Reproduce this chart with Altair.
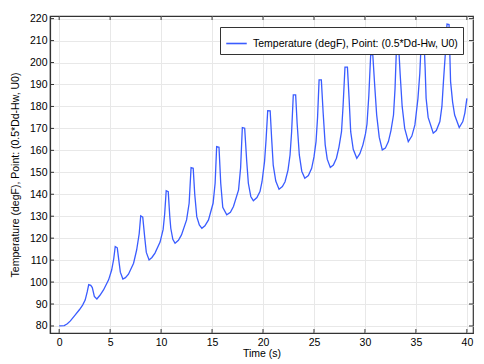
import altair as alt
import pandas as pd

# ---- data ----
time_s = [
    0.0, 0.5, 0.8, 1.1, 1.5, 2.0, 2.3, 2.55, 2.75, 2.9, 3.1, 3.25, 3.45, 3.7,
    4.0, 4.35, 4.85, 5.15, 5.35, 5.5, 5.7, 5.85, 6.0, 6.25,
    6.5, 6.8, 7.3, 7.6, 7.85, 8.0, 8.2, 8.4, 8.55, 8.82,
    9.1, 9.4, 9.9, 10.2, 10.35, 10.5, 10.7, 10.85, 10.95, 11.15, 11.37,
    11.7, 12.0, 12.5, 12.75, 12.94, 13.15, 13.3, 13.5, 13.75, 14.0,
    14.3, 14.65, 15.1, 15.3, 15.45, 15.68, 15.85, 16.05, 16.44,
    16.8, 17.1, 17.6, 17.8, 17.97, 18.2, 18.4, 18.56, 18.8, 19.05,
    19.4, 19.7, 19.9, 20.15, 20.3, 20.46, 20.7, 20.85, 21.0, 21.25, 21.57,
    21.9, 22.16, 22.45, 22.65, 22.8, 22.97, 23.2, 23.35, 23.56, 23.8, 24.1,
    24.45, 24.77, 25.0, 25.2, 25.35, 25.5, 25.72, 25.9, 26.1, 26.3, 26.6,
    26.9, 27.2, 27.45, 27.7, 27.85, 28.04, 28.28, 28.45, 28.6, 28.85, 29.2,
    29.5, 29.8, 30.05, 30.2, 30.38, 30.56, 30.77, 30.95, 31.15, 31.4, 31.7,
    32.0, 32.3, 32.55, 32.8, 32.95, 33.1, 33.3, 33.45, 33.65, 33.9, 34.25,
    34.6, 34.9, 35.2, 35.38, 35.55, 35.77, 35.9, 36.0, 36.2, 36.7,
    37.0, 37.35, 37.55, 37.7, 37.9, 38.05, 38.25, 38.4, 38.6, 38.8, 39.25,
    39.6, 39.8, 40.0,
]
temp_degF = [
    80.0, 80.2, 81.0, 82.3, 84.6, 87.5, 89.5, 91.8, 95.5, 98.8, 98.5, 97.5, 93.5, 92.3,
    94.0, 96.4, 101.0, 105.5, 110.5, 116.2, 115.6, 110.0, 104.5, 101.4,
    102.0, 103.6, 108.6, 114.6, 122.0, 130.2, 129.6, 120.0, 113.5, 110.1,
    111.2, 113.2, 118.2, 124.0, 131.0, 141.6, 141.2, 130.0, 124.5, 119.5, 117.7,
    119.0, 121.5, 128.3, 135.9, 152.1, 151.8, 140.0, 129.8, 126.0, 124.5,
    125.6, 128.3, 135.9, 145.0, 161.7, 161.4, 145.0, 134.0, 130.6,
    131.8, 134.4, 142.0, 152.0, 170.4, 170.1, 155.0, 145.0, 139.0, 137.0,
    138.5, 141.2, 145.7, 155.0, 165.0, 178.1, 178.0, 165.0, 153.3, 146.0, 142.3,
    143.5, 145.7, 151.0, 157.9, 168.0, 185.3, 185.3, 172.0, 157.9, 150.5, 147.3,
    148.5, 151.8, 157.0, 164.0, 175.0, 192.1, 192.1, 177.0, 162.5, 156.0, 152.2,
    153.3, 156.4, 161.5, 168.5, 180.0, 197.9, 197.9, 183.0, 168.5, 160.5, 156.4,
    158.5, 162.5, 167.5, 172.0, 185.0, 203.5, 203.5, 190.0, 176.1, 166.0, 160.2,
    161.0, 164.0, 169.0, 176.1, 188.0, 208.0, 208.0, 195.0, 180.0, 170.0, 164.0,
    166.5, 171.6, 183.7, 195.0, 212.5, 212.5, 198.0, 183.7, 175.0, 167.8,
    169.0, 173.1, 180.0, 191.3, 205.0, 217.5, 217.3, 191.3, 182.0, 176.1, 170.4,
    173.1, 177.0, 183.7,
]
series_name = "Temperature (degF), Point: (0.5*Dd-Hw, U0)"
x_ticks = [0, 5, 10, 15, 20, 25, 30, 35, 40]
y_ticks = [80, 90, 100, 110, 120, 130, 140, 150, 160, 170, 180, 190, 200, 210, 220]

df = pd.DataFrame({"t": time_s, "T": temp_degF, "series": series_name})
xt = pd.DataFrame({"x": x_ticks})
yt = pd.DataFrame({"y": y_ticks})

W, H = 423, 317
FONT = "Liberation Sans"
FRAME = "#333333"
xscale = alt.Scale(domain=[-0.9, 40.6], nice=False, zero=False)
yscale = alt.Scale(domain=[76.8, 221.2], nice=False, zero=False)
xaxis = alt.Axis(values=x_ticks, title="Time (s)", ticks=False, labelPadding=4,
                 titlePadding=1, grid=True)
yaxis = alt.Axis(values=y_ticks, title=series_name, ticks=False, labelPadding=3,
                 titlePadding=9, grid=True)

line = alt.Chart(df).mark_line(strokeWidth=1.3, clip=True).encode(
    x=alt.X("t:Q", scale=xscale, axis=xaxis),
    y=alt.Y("T:Q", scale=yscale, axis=yaxis),
    color=alt.Color("series:N", scale=alt.Scale(range=["#3a5cff"]),
                    legend=alt.Legend(title=None, orient="none", legendX=170, legendY=11,
                                      symbolType="stroke", symbolSize=420, symbolStrokeWidth=1.6,
                                      strokeColor=FRAME, fillColor="white", padding=5,
                                      labelFont=FONT, labelFontSize=10.5, labelColor="black",
                                      labelOffset=5, labelLimit=0)),
)

tick_len = 4
xb = alt.Chart(xt).mark_rule(color=FRAME, strokeWidth=1).encode(
    x=alt.X("x:Q", scale=xscale, axis=xaxis), y=alt.value(H), y2=alt.value(H - tick_len))
xtop = alt.Chart(xt).mark_rule(color=FRAME, strokeWidth=1).encode(
    x=alt.X("x:Q", scale=xscale, axis=xaxis), y=alt.value(0), y2=alt.value(tick_len))
yl = alt.Chart(yt).mark_rule(color=FRAME, strokeWidth=1).encode(
    y=alt.Y("y:Q", scale=yscale, axis=yaxis), x=alt.value(0), x2=alt.value(tick_len))
yr = alt.Chart(yt).mark_rule(color=FRAME, strokeWidth=1).encode(
    y=alt.Y("y:Q", scale=yscale, axis=yaxis), x=alt.value(W), x2=alt.value(W - tick_len))

chart = alt.layer(line, xb, xtop, yl, yr).properties(
    width=W, height=H,
    autosize=alt.AutoSizeParams(type="none"),
    padding={"left": 42, "top": 8, "right": 3, "bottom": 28},
).configure_view(
    stroke=FRAME, strokeWidth=1.2
).configure_axis(
    labelFont=FONT, titleFont=FONT, labelFontSize=10.5, titleFontSize=10.5,
    labelColor="black", titleColor="black", titleFontWeight="normal",
    domainColor=FRAME, domainWidth=1.2, gridColor="#e8e8e8", gridWidth=1,
)

chart.save("out.html", embed_options={"renderer": "svg", "actions": False})
